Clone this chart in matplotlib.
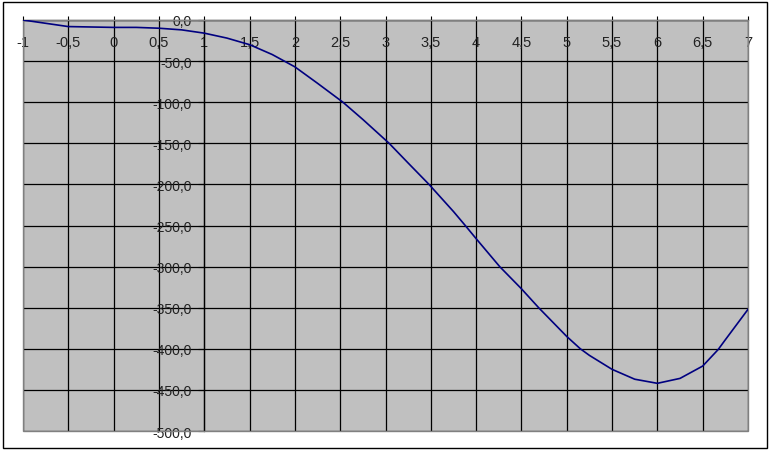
import numpy as np
import matplotlib.pyplot as plt
from matplotlib.patches import Rectangle
from matplotlib.ticker import MultipleLocator, FuncFormatter

# values
x = [-1, -0.75, -0.5, -0.25, 0, 0.25, 0.5, 0.75, 1, 1.25, 1.5, 1.75, 2,
     2.25, 2.53, 2.75, 3.04, 3.25, 3.48, 3.75, 3.88, 4, 4.26, 4.5, 4.69, 5,
     5.15, 5.25, 5.5, 5.75, 6, 6.25, 6.5, 6.67, 6.75, 7]
y = [0, -4, -8, -8.5, -9, -9, -10, -12, -16, -22, -30, -42, -57,
     -77, -100, -121, -150, -174, -200, -233, -250, -266, -300, -327, -350, -385,
     -400, -408, -425, -437, -442, -436, -421, -401, -389, -352]

W, H = 771, 452
fig = plt.figure(figsize=(W / 100, H / 100), dpi=100)
plt.rcParams['font.family'] = ['Liberation Sans', 'DejaVu Sans']

# outer black frame
fig.patches.append(Rectangle((3 / W, 3 / H), 764 / W, 446 / H, transform=fig.transFigure,
                             fill=False, edgecolor='black', linewidth=1.0))

ax = fig.add_axes([23 / W, (H - 432) / H, (748 - 23) / W, (432 - 21) / H])
ax.set_facecolor('#c0c0c0')
ax.set_xlim(-1, 7)
ax.set_ylim(-500, 0)

ax.xaxis.set_major_locator(MultipleLocator(0.5))
ax.yaxis.set_major_locator(MultipleLocator(50))
ax.grid(True, color='black', linewidth=0.9)
ax.set_axisbelow(True)

ax.xaxis.set_major_formatter(FuncFormatter(lambda v, p: ('%g' % v).replace('.', ',')))
ax.yaxis.set_major_formatter(FuncFormatter(lambda v, p: ('%.1f' % v).replace('.', ',')))

# axes cross at x=1, y=0
ax.spines['left'].set_position(('data', 1))
ax.spines['bottom'].set_position(('data', 0))
ax.spines['right'].set_visible(False)
ax.spines['top'].set_visible(False)
for s in ('left', 'bottom'):
    ax.spines[s].set_color('black')
    ax.spines[s].set_linewidth(0.9)

ax.tick_params(axis='x', direction='in', length=3, pad=11, labelsize=10.5, colors='black')
ax.tick_params(axis='y', direction='out', length=4, pad=5, labelsize=10, colors='black')
for lab in ax.get_xticklabels() + ax.get_yticklabels():
    lab.set_color('#222222')

# gray plot-area frame
ax.add_patch(Rectangle((0, 0), 1, 1, transform=ax.transAxes, fill=False,
                       edgecolor='#808080', linewidth=1.0, zorder=3, clip_on=False))

ax.plot(x, y, color='#000080', linewidth=1.2, zorder=4)

fig.savefig('out.png', dpi=100)
